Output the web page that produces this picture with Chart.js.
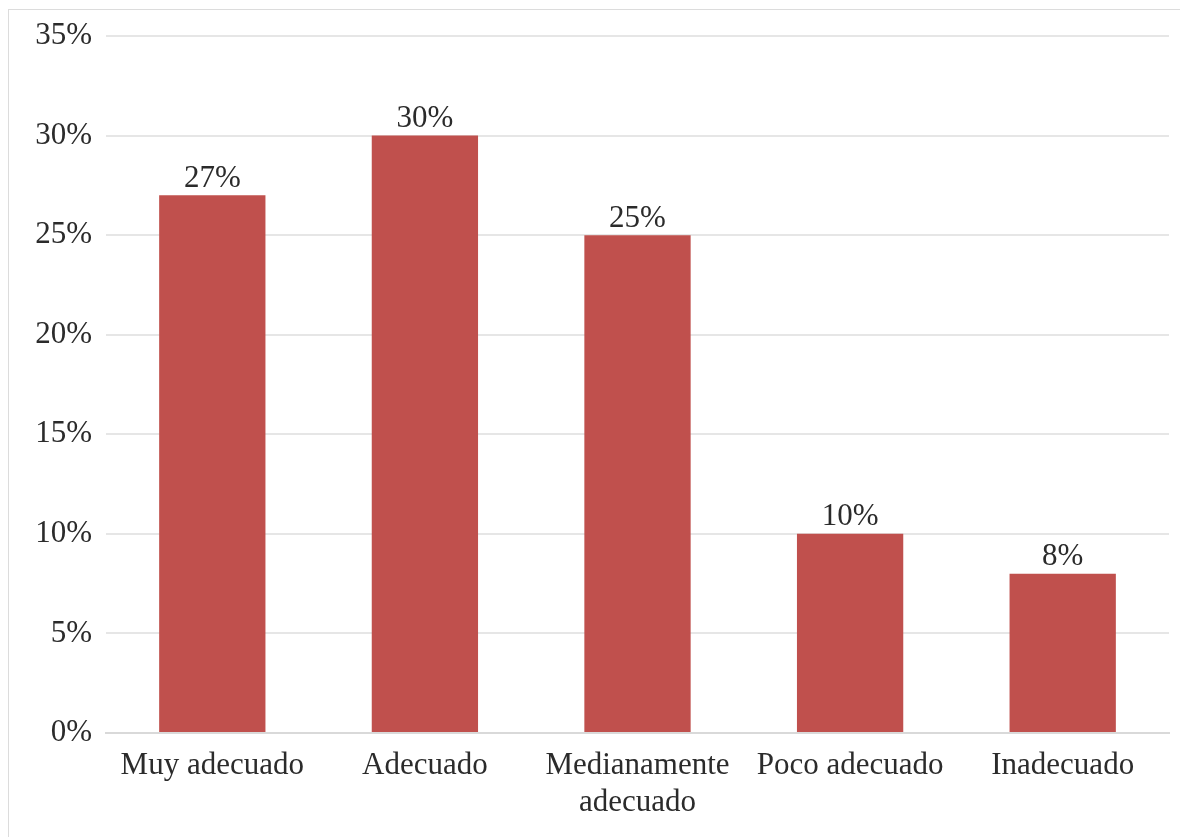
<!DOCTYPE html>
<html lang="es">
<head>
<meta charset="utf-8">
<title>Valoración</title>
<script src="https://cdn.jsdelivr.net/npm/chart.js@4/dist/chart.umd.min.js"></script>
<style>
  html, body { margin: 0; padding: 0; background: #fff; overflow: hidden; }
  #frame {
    position: absolute; left: 8px; top: 9px;
    width: 1200px; height: 860px;
    border-top: 1px solid #dcdcdc; border-left: 1px solid #dcdcdc;
  }
  #chart { position: absolute; left: 0; top: 0; }
</style>
</head>
<body>
<div id="frame"></div>
<canvas id="chart" width="1180" height="837"></canvas>
<script>
// Categorías y porcentajes
const categorias = ['Muy adecuado', 'Adecuado', ['Medianamente', 'adecuado'], 'Poco adecuado', 'Inadecuado'];
const porcentajes = [27, 30, 25, 10, 8];
const marcasY = [0, 5, 10, 15, 20, 25, 30, 35];

const fuente = "'Liberation Serif', 'Times New Roman', serif";
const colorTexto = '#2b2b2b';

// Etiquetas de valor encima de cada barra
const etiquetasValor = {
    id: 'etiquetasValor',
    afterDatasetsDraw(chart) {
        const ctx = chart.ctx;
        const meta = chart.getDatasetMeta(0);
        ctx.save();
        ctx.font = '31px ' + fuente;
        ctx.fillStyle = colorTexto;
        ctx.textAlign = 'center';
        ctx.textBaseline = 'bottom';
        meta.data.forEach(function(bar, i) {
            ctx.fillText(porcentajes[i] + '%', bar.x, bar.y - 1);
        });
        ctx.restore();
    }
};

new Chart(document.getElementById('chart'), {
    type: 'bar',
    data: {
        labels: categorias,
        datasets: [{
            data: porcentajes,
            backgroundColor: '#c0504d',
            borderWidth: 0,
            barPercentage: 1,
            categoryPercentage: 0.5
        }]
    },
    options: {
        responsive: false,
        animation: false,
        layout: { padding: { top: 36, right: 11, left: 0, bottom: 0 } },
        plugins: {
            legend: { display: false },
            tooltip: { enabled: false }
        },
        scales: {
            x: {
                grid: { display: false, drawTicks: false },
                border: { color: '#d9d9d9', width: 2 },
                ticks: {
                    color: colorTexto,
                    font: { family: fuente, size: 31 },
                    padding: 14,
                    maxRotation: 0,
                    autoSkip: false
                },
                afterFit(scale) { scale.height = 104; }
            },
            y: {
                min: 0,
                max: 35,
                afterBuildTicks(scale) {
                    scale.ticks = marcasY.map(v => ({ value: v }));
                },
                grid: { color: '#e6e6e6', lineWidth: 2, drawTicks: false },
                border: { display: false },
                ticks: {
                    color: colorTexto,
                    font: { family: fuente, size: 31 },
                    padding: 14,
                    callback: v => v + '%'
                },
                afterFit(scale) { scale.width = 106; }
            }
        }
    },
    plugins: [etiquetasValor]
});
</script>
</body>
</html>
